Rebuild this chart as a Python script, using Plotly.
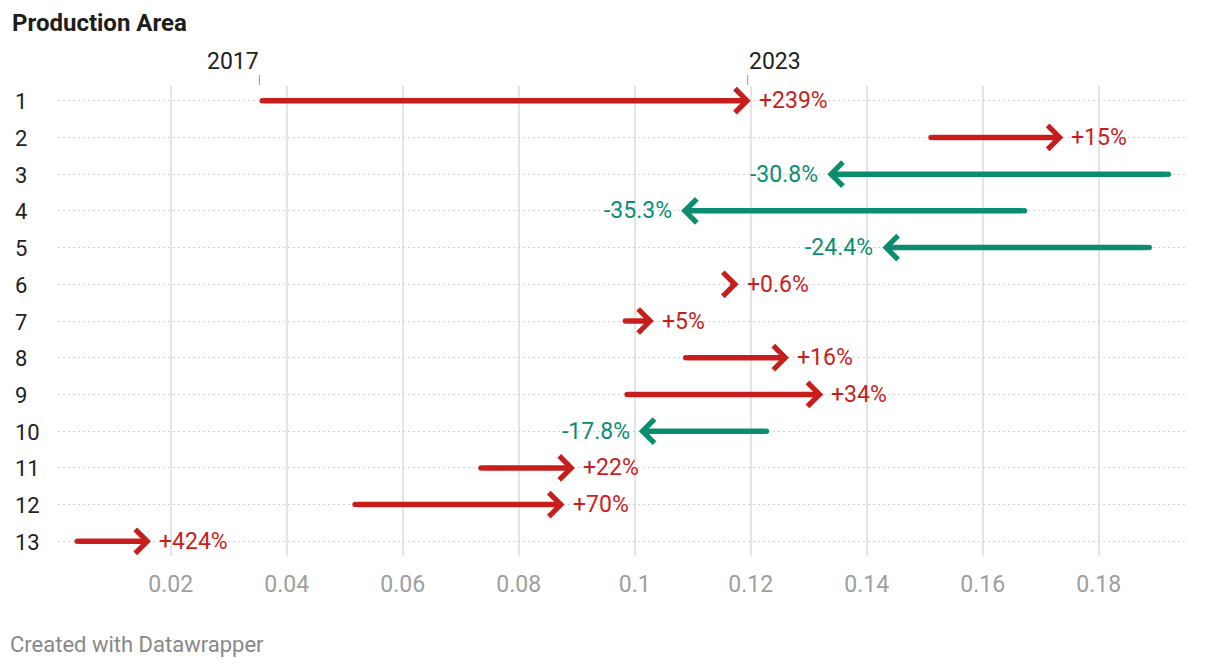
import plotly.graph_objects as go

# ---- data ----
rows = [1, 2, 3, 4, 5, 6, 7, 8, 9, 10, 11, 12, 13]
value_2017 = [0.0358, 0.1511, 0.1920, 0.1672, 0.1887, 0.1172, 0.0984, 0.1088,
              0.0987, 0.1227, 0.0735, 0.0518, 0.0039]
value_2023 = [0.1200, 0.1739, 0.1332, 0.1080, 0.1427, 0.1179, 0.1033, 0.1266,
              0.1325, 0.1007, 0.0897, 0.0879, 0.0166]
change_labels = ["+239%", "+15%", "-30.8%", "-35.3%", "-24.4%", "+0.6%", "+5%",
                 "+16%", "+34%", "-17.8%", "+22%", "+70%", "+424%"]
x_tickvals = [0.02, 0.04, 0.06, 0.08, 0.10, 0.12, 0.14, 0.16, 0.18]
x_ticktext = ["0.02", "0.04", "0.06", "0.08", "0.1", "0.12", "0.14", "0.16", "0.18"]
title_text = "Production Area"
start_label = "2017"
end_label = "2023"
footer_text = "Created with Datawrapper"

# ---- style ----
RED = "#c71e1d"
GREEN = "#0b8e6f"
FONT = "Roboto"
W, H = 1220, 670
ML, MR, MT, MB = 58, 33, 86, 114
plot_h = H - MT - MB

def py_to_paper(py):
    return (H - MB - py) / plot_h

def px_to_paper_x(px):
    return (px - ML) / (W - ML - MR)

fig = go.Figure()
# round caps at the start of each arrow
start_colors = [RED if e >= s else GREEN for s, e in zip(value_2017, value_2023)]
fig.add_trace(go.Scatter(x=value_2017, y=rows, mode="markers",
                         marker=dict(size=5.5, color=start_colors, line=dict(width=0)),
                         hoverinfo="skip", showlegend=False))

annotations = []
for r, s, e, lab in zip(rows, value_2017, value_2023, change_labels):
    up = e >= s
    col = RED if up else GREEN
    annotations.append(dict(x=e, y=r, ax=s, ay=r, xref="x", yref="y", axref="x", ayref="y",
                            showarrow=True, arrowhead=4, arrowsize=0.84, arrowwidth=5.5,
                            arrowcolor=col, text=""))
    if abs(e - s) < 0.002:
        # very short change: draw only the head at the end value
        annotations.append(dict(x=e, y=r, ax=-9 if up else 9, ay=0, xref="x", yref="y",
                                showarrow=True, arrowhead=4, arrowsize=0.84, arrowwidth=5.5,
                                arrowcolor=col, text=""))
    annotations.append(dict(x=e, y=r, xref="x", yref="y", text=lab, showarrow=False,
                            xanchor="left" if up else "right", xshift=6 if up else -7,
                            yanchor="middle", font=dict(family=FONT, size=23, color=col)))

# row labels
for r in rows:
    annotations.append(dict(x=px_to_paper_x(13), y=r, xref="paper", yref="y", text=str(r),
                            showarrow=False, xanchor="left", yanchor="middle", yshift=-1,
                            font=dict(family=FONT, size=22, color="#222222")))

# column header labels (2017 / 2023) above the first row
annotations.append(dict(x=value_2017[0], y=py_to_paper(62), xref="x", yref="paper",
                        text=start_label, showarrow=False, xanchor="right", xshift=-1,
                        yanchor="middle", font=dict(family=FONT, size=23, color="#222222")))
annotations.append(dict(x=value_2023[0], y=py_to_paper(62), xref="x", yref="paper",
                        text=end_label, showarrow=False, xanchor="left", xshift=-4,
                        yanchor="middle", font=dict(family=FONT, size=23, color="#222222")))

# title and footer
annotations.append(dict(x=px_to_paper_x(10), y=py_to_paper(23), xref="paper", yref="paper",
                        text="<b>" + title_text + "</b>", showarrow=False, xanchor="left",
                        yanchor="middle", font=dict(family=FONT, size=24, color="#1d1d1d")))
annotations.append(dict(x=px_to_paper_x(8), y=py_to_paper(644), xref="paper", yref="paper",
                        text=footer_text, showarrow=False, xanchor="left",
                        yanchor="middle", font=dict(family=FONT, size=22, color="#888888")))

shapes = [
    dict(type="line", xref="x", yref="paper", xsizemode="pixel", xanchor=value_2017[0],
         x0=-3, x1=-3, y0=py_to_paper(85), y1=py_to_paper(75),
         line=dict(color="#999999", width=1)),
    dict(type="line", xref="x", yref="paper", xsizemode="pixel", xanchor=value_2023[0],
         x0=-3, x1=-3, y0=py_to_paper(85), y1=py_to_paper(75),
         line=dict(color="#999999", width=1)),
]

fig.update_layout(
    width=W, height=H,
    margin=dict(l=ML, r=MR, t=MT, b=MB),
    paper_bgcolor="white", plot_bgcolor="white",
    showlegend=False,
    annotations=annotations,
    shapes=shapes,
    xaxis=dict(range=[0.00057, 0.19522], tickvals=x_tickvals, ticktext=x_ticktext,
               showgrid=True, gridcolor="#e4e4e4", gridwidth=1.5, zeroline=False,
               showline=False, ticks="", ticklabelstandoff=12,
               tickfont=dict(family=FONT, size=23, color="#9e9e9e")),
    yaxis=dict(range=[13.4, 0.6], tickvals=rows, showticklabels=False,
               showgrid=True, gridcolor="#d2d2d2", griddash="2px,3px", gridwidth=1,
               zeroline=False, showline=False, ticks=""),
)

fig.write_html("out.html")
